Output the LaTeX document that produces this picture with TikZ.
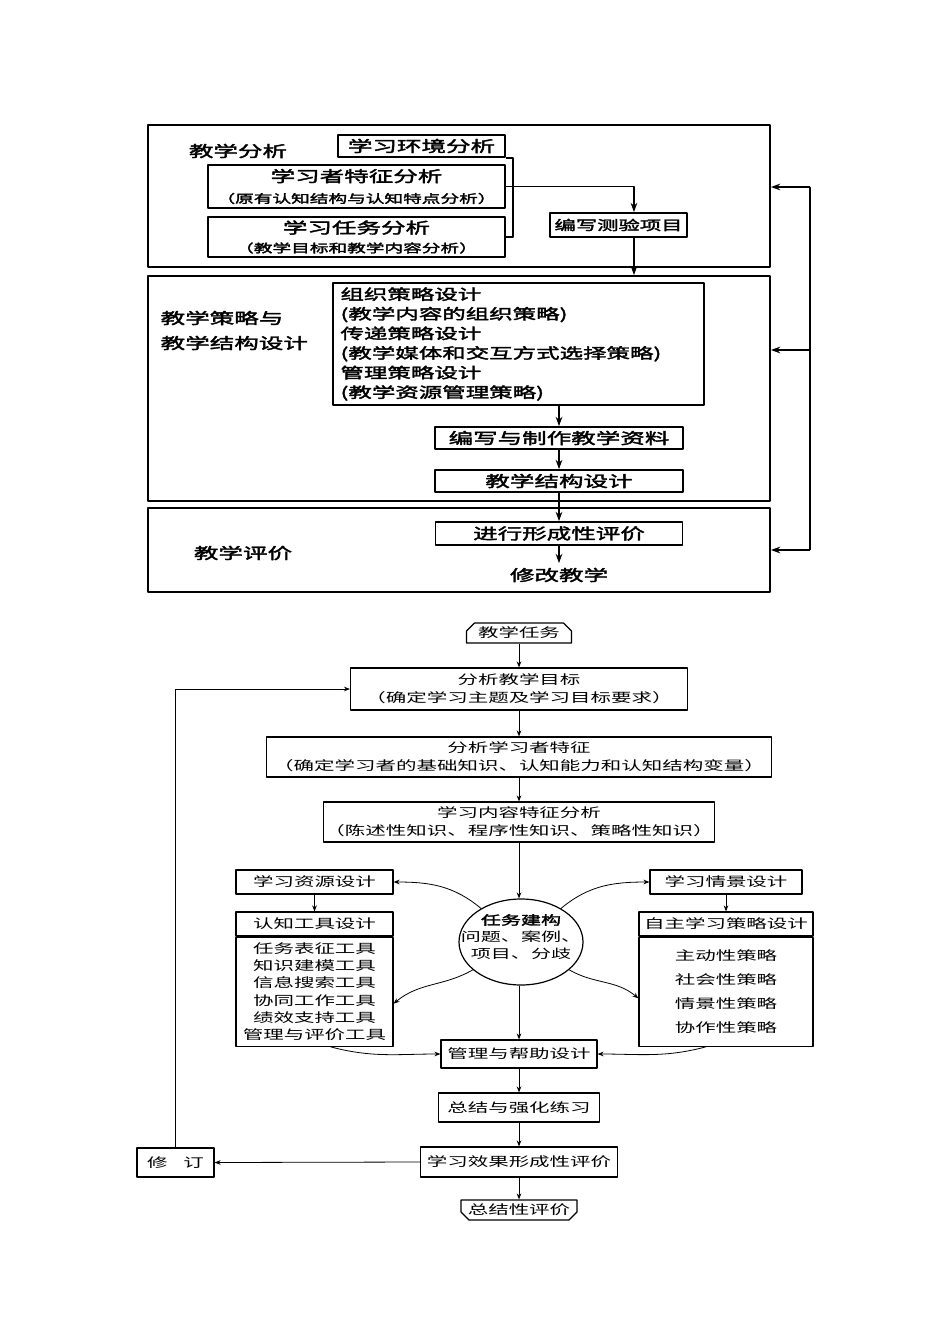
\documentclass[tikz,border=0pt]{standalone}
\usepackage{fontspec}
\setmainfont{Noto Sans CJK SC}[FakeStretch=1.6]
\newfontfamily\heiti{Noto Sans CJK SC}[FakeStretch=1.6,FakeBold=2.5]
\usetikzlibrary{arrows.meta,shapes.geometric,shapes.misc}
\begin{document}
\begin{tikzpicture}[>=stealth, line join=round, x=0.75pt, y=-0.75pt,
		wh/.style 2 args={minimum width=#1*0.75pt, minimum height=#2*0.75pt},
		big/.style={font=\heiti\fontsize{11.5}{18.75}\selectfont},
		small/.style={font=\fontsize{9.6}{13.5}\selectfont},
		panel/.style={draw, line width=1.4pt, inner sep=0pt},
		tbox/.style={draw, line width=1.3pt, inner sep=0pt, align=center, big},
		bbox/.style={draw, line width=0.9pt, inner sep=0pt, align=center, small},
		tline/.style={line width=1pt, -{Stealth[length=7pt,width=5pt]}},
		tplain/.style={line width=1pt},
		bline/.style={line width=0.6pt, -{Stealth[length=4.5pt,width=3.5pt]}}]
	\useasboundingbox (0,0) rectangle (950,1344);
	\node[panel, wh={622}{142}] (p1) at (459,196) {};
	\node[panel, wh={622}{225}] (p2) at (459,388.5) {};
	\node[panel, wh={622}{84}] (p3) at (459,550) {};
	\node[big] (l1) at (238,151) {教学分析};
	\node[big, align=left, anchor=west] (l2) at (156,330.5) {教学策略与\\教学结构设计};
	\node[big] (l3) at (243,553) {教学评价};
	\node[tbox, wh={167}{22}] (env) at (421.5,146) {学习环境分析};
	\node[tbox, wh={297}{43}] (learner) at (356.5,186.5) {学习者特征分析\\[-3pt]{\fontsize{8.75}{11}\selectfont （原有认知结构与认知特点分析）}};
	\node[tbox, wh={297}{40}] (task) at (356.5,237) {学习任务分析\\[-4.5pt]{\fontsize{8.75}{11}\selectfont （教学目标和教学内容分析）}};
	\node[tbox, wh={137}{24}, font=\heiti\fontsize{10}{12}\selectfont] (test) at (618.5,225) {编写测验项目};
	\node[tbox, line width=2pt, wh={371}{122}, align=left, inner xsep=5.25pt, text width=267pt, font=\heiti\fontsize{11}{14.7}\selectfont] (strat) at (518.5,344) {组织策略设计\\(教学内容的组织策略)\\传递策略设计\\(教学媒体和交互方式选择策略)\\管理策略设计\\(教学资源管理策略)};
	\node[tbox, wh={248}{22}] (mat) at (559,438) {编写与制作教学资料};
	\node[tbox, wh={248}{22}] (struct) at (559,481) {教学结构设计};
	\node[tbox, wh={247}{23}] (eval) at (559,533.5) {进行形成性评价};
	\node[big] (rev) at (559,575) {修改教学};
	\draw[tplain] (env.south east) -| ([xshift=5.25pt]task.east) -- (task.east);
	\draw[tline] (learner.east) -| ([xshift=11.6pt]test.north);
	\draw[tline] ([xshift=11.6pt]test.south) -- ([xshift=11.6pt]test.south |- p2.north);
	\draw[tline] (mat.north |- strat.south) -- (mat.north);
	\draw[tline] (mat.south) -- (struct.north);
	\draw[tline] (struct.south) -- (eval.north);
	\draw[tline] (eval.south) -- (rev.north);
	\coordinate (f1) at (810,187);
	\coordinate (f2) at (810,350);
	\coordinate (f3) at (810,550);
	\draw[tplain] (f1) -- (f3);
	\draw[tline] (f1) -- (f1 -| p1.east);
	\draw[tline] (f2) -- (f2 -| p2.east);
	\draw[tline] (f3) -- (f3 -| p3.east);
	\node[bbox, chamfered rectangle, chamfered rectangle corners={north west,north east}, chamfered rectangle xsep=3pt, chamfered rectangle ysep=3pt, wh={105}{20}] (start) at (519,633) {教学任务};
	\node[bbox, wh={337}{42}] (goal) at (519,689) {分析教学目标\\（确定学习主题及学习目标要求）};
	\node[bbox, wh={505}{40}] (learn) at (519,757) {分析学习者特征\\（确定学习者的基础知识、认知能力和认知结构变量）};
	\node[bbox, wh={391}{40}] (cont) at (519,822) {学习内容特征分析\\（陈述性知识、程序性知识、策略性知识）};
	\node[draw, ellipse, line width=0.9pt, inner sep=0pt, wh={124}{86}] (build) at (521,942) {};
	\node[align=center, font=\fontsize{9.4}{12.75}\selectfont] (buildtxt) at (521,937) {{\heiti 任务建构}\\问题、案例、\\项目、分歧};
	\node[bbox, wh={157}{24}] (res) at (314.5,882) {学习资源设计};
	\node[bbox, wh={157}{24}] (cogh) at (314.5,924) {认知工具设计};
	\node[bbox, wh={157}{109}, anchor=north, font=\fontsize{9.6}{13}\selectfont] (cog) at (cogh.south) {任务表征工具\\知识建模工具\\信息搜索工具\\协同工作工具\\绩效支持工具\\管理与评价工具};
	\node[bbox, wh={152}{24}] (sit) at (726,882) {学习情景设计};
	\node[bbox, wh={174}{24}] (selfh) at (726,924) {自主学习策略设计};
	\node[bbox, wh={174}{109}, anchor=north, font=\fontsize{9.6}{18.2}\selectfont] (self) at (selfh.south) {主动性策略\\社会性策略\\情景性策略\\协作性策略};
	\node[bbox, wh={156}{28}] (mgmt) at (519,1054) {管理与帮助设计};
	\node[bbox, wh={161}{29}] (sum) at (519,1107.5) {总结与强化练习};
	\node[bbox, wh={197}{30}] (form) at (519,1162) {学习效果形成性评价};
	\node[bbox, wh={77}{29}] (fix) at (175.5,1162.5) {修\hspace{12pt}订};
	\node[bbox, chamfered rectangle, chamfered rectangle corners={south west,south east}, chamfered rectangle xsep=3pt, chamfered rectangle ysep=3pt, wh={116}{20}] (final) at (519,1210) {总结性评价};
	\draw[bline] (start.south) -- (goal.north);
	\draw[bline] (goal.south) -- (learn.north);
	\draw[bline] (learn.south) -- (cont.north);
	\draw[bline] (cont.south) -- (cont.south |- build.north);
	\draw[bline] (res.south) -- (cogh.north);
	\draw[bline] (sit.south) -- (selfh.north);
	\draw[bline] (build.140) to[out=140,in=0] (res.east);
	\draw[bline] (build.40) to[out=40,in=180] (sit.west);
	\draw[bline] (build.210) to[out=210,in=40] ([yshift=-9pt]cog.east);
	\draw[bline] (build.-30) to[out=-30,in=140] ([yshift=-5pt]self.west);
	\draw[bline] (build.south -| mgmt.north) -- (mgmt.north);
	\draw[bline] ([xshift=12pt]cog.south) to[out=-15,in=180] (mgmt.west);
	\draw[bline] ([xshift=-15pt]self.south) to[out=-165,in=0] (mgmt.east);
	\draw[bline] (mgmt.south) -- (sum.north);
	\draw[bline] (sum.south) -- (form.north);
	\draw[bline] (form.south) -- (final.north);
	\draw[bline] (form.west) -- (fix.east);
	\draw[bline] (fix.north) |- (goal.west);
\end{tikzpicture}
\end{document}
